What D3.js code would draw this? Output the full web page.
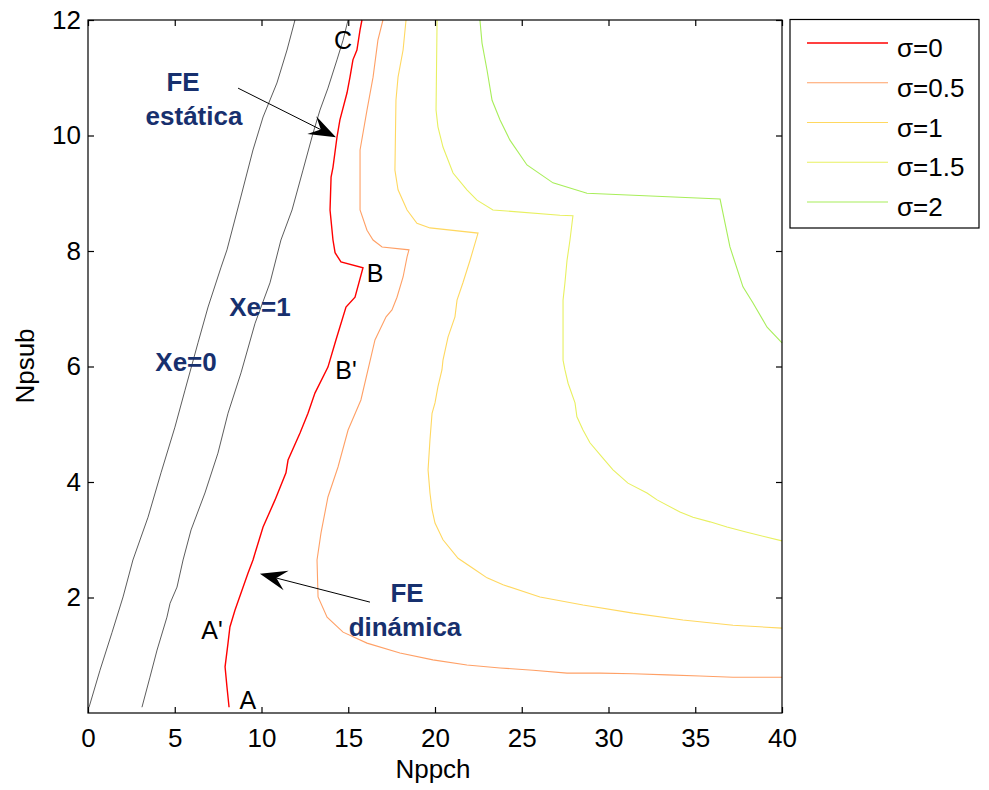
<!DOCTYPE html>
<html>
<head>
<meta charset="utf-8">
<script src="https://cdn.jsdelivr.net/npm/d3@7"></script>
<style>
  body { margin: 0; background: #fff; }
  svg text { font-family: "Liberation Sans", Arial, sans-serif; }
</style>
</head>
<body>
<div id="chart"></div>
<script>
// contour lines, [Nppch, Npsub] pairs
const xe0 = [[0.06,0.10],[0.69,0.74],[1.38,1.39],[2.02,2.01],[2.59,2.65],[3.46,3.39],[4.21,4.16],[5.01,4.95],[5.59,5.59],[6.34,6.41],[6.92,7.03],[7.67,7.72],[8.01,8.02],[8.76,8.88],[9.51,9.75],[10.09,10.32],[10.89,10.91],[11.47,11.48],[11.93,12.0]];
const xe1 = [[3.11,0.10],[3.57,0.62],[3.98,1.09],[4.55,1.66],[4.73,1.90],[5.13,2.18],[5.48,2.65],[5.94,3.17],[6.74,3.81],[7.49,4.50],[8.07,5.19],[8.82,5.89],[9.63,6.75],[10.49,7.45],[11.12,8.19],[11.76,8.71],[12.39,9.40],[12.97,10.04],[13.37,10.44],[13.83,10.82],[14.35,11.31],[14.70,11.65],[14.99,12.0]];
const sigma0 = [[8.13,0.10],[8.01,0.45],[7.90,0.80],[8.07,1.21],[8.18,1.49],[8.47,1.78],[8.88,2.13],[9.22,2.42],[9.51,2.65],[9.63,2.77],[10.09,3.22],[10.78,3.69],[11.41,4.16],[11.53,4.38],[12.22,4.85],[12.68,5.19],[13.08,5.54],[13.83,5.99],[14.29,6.46],[14.87,7.03],[15.39,7.20],[15.85,7.71],[14.58,7.81],[14.24,7.97],[14.12,8.19],[13.95,8.71],[14.01,9.28],[14.12,9.45],[14.35,9.97],[14.52,10.27],[14.93,10.74],[15.10,11.01],[15.27,11.31],[15.50,11.48],[15.68,11.83],[15.79,12.0]];
const sigma05 = [[40.0,0.62],[37.18,0.62],[35.27,0.64],[33.37,0.66],[31.41,0.68],[29.51,0.69],[27.61,0.69],[25.65,0.74],[23.75,0.78],[21.84,0.83],[19.88,0.92],[17.98,1.04],[16.08,1.21],[14.70,1.40],[13.78,1.66],[13.26,2.01],[13.20,2.65],[13.43,3.12],[13.83,3.74],[14.41,4.26],[14.99,4.90],[15.73,5.42],[16.54,6.46],[17.18,6.86],[17.52,6.98],[17.81,7.20],[18.16,7.55],[18.39,7.90],[18.50,8.02],[16.95,8.07],[16.43,8.19],[16.08,8.36],[15.68,8.71],[15.68,9.75],[16.08,10.44],[16.43,11.01],[16.71,11.65],[17.00,12.0]];
const sigma1 = [[40.0,1.47],[37.18,1.52],[34.29,1.61],[31.41,1.73],[28.53,1.87],[26.05,2.01],[23.92,2.22],[23.00,2.34],[22.31,2.48],[21.33,2.68],[20.46,3.00],[20.00,3.29],[19.83,3.52],[19.71,3.81],[19.60,4.21],[19.71,4.73],[19.83,5.19],[20.00,5.37],[20.17,5.65],[20.40,5.94],[20.46,6.11],[20.75,6.51],[21.15,6.86],[21.27,7.15],[21.61,7.45],[22.02,7.84],[22.48,8.31],[19.71,8.40],[18.96,8.48],[18.39,8.71],[17.87,9.06],[17.69,9.40],[17.75,10.61],[17.87,11.01],[18.16,11.48],[18.33,12.0]];
const sigma15 = [[40.0,2.98],[37.98,3.13],[36.83,3.22],[35.85,3.31],[34.87,3.39],[34.12,3.48],[32.80,3.69],[32.22,3.81],[31.12,3.98],[30.26,4.21],[29.63,4.43],[28.93,4.68],[28.53,4.90],[28.18,5.13],[28.07,5.37],[27.67,5.71],[27.49,5.94],[27.38,6.11],[27.38,7.15],[27.49,7.45],[27.61,7.84],[27.78,8.19],[27.95,8.61],[27.20,8.62],[23.34,8.71],[22.42,8.88],[21.84,9.06],[21.04,9.35],[20.46,9.80],[20.17,10.15],[20.06,10.44],[20.12,12.0]];
const sigma2 = [[40.0,6.41],[39.14,6.68],[38.33,7.10],[37.75,7.38],[37.00,8.07],[36.43,8.90],[28.76,9.00],[26.80,9.18],[25.30,9.49],[24.32,9.92],[23.75,10.27],[23.29,10.61],[23.00,11.13],[22.71,11.60],[22.59,12.0]];

const legendNames = ["σ=0", "σ=0.5", "σ=1", "σ=1.5", "σ=2"];
const xTicks = [0, 5, 10, 15, 20, 25, 30, 35, 40];
const yTicks = [2, 4, 6, 8, 10, 12];

// point labels and annotations (x, y = text centre)
const pointLabels = [
    { t: "C", x: 14.70, y: 11.65 },
    { t: "B", x: 16.54, y: 7.62 },
    { t: "B'", x: 14.87, y: 5.94 },
    { t: "A'", x: 7.15, y: 1.44 },
    { t: "A", x: 9.22, y: 0.23 }
];
const boldLabels = [
    { t: "Xe=0", x: 5.65, y: 6.08 },
    { t: "Xe=1", x: 9.91, y: 7.03 },
    { t: "FE", x: 5.48, y: 10.93 },
    { t: "estática", x: 6.11, y: 10.34 },
    { t: "FE", x: 18.39, y: 2.08 },
    { t: "dinámica", x: 18.27, y: 1.49 }
];
const arrows = [
    { x1: 8.65, y1: 10.82, x2: 14.29, y2: 9.97 },
    { x1: 16.25, y1: 1.92, x2: 9.91, y2: 2.41 }
];

const width = 989, height = 790;
const box = { left: 88, right: 782, top: 20, bottom: 713 };
const fs = "26px";

const svg = d3.select("#chart").append("svg")
    .attr("width", width)
    .attr("height", height);

const x = d3.scaleLinear().domain([0, 40]).range([box.left, box.right]);
const y = d3.scaleLinear().domain([0, 12]).range([box.bottom, box.top]);

const series = [
    { data: xe0, color: "#4a4a4a", w: 0.9 },
    { data: xe1, color: "#4a4a4a", w: 0.9 },
    { data: sigma0, color: "#ff0000", w: 1.4 },
    { data: sigma05, color: "#ffa066", w: 1.1 },
    { data: sigma1, color: "#ffd860", w: 1.1 },
    { data: sigma15, color: "#e8f060", w: 1.1 },
    { data: sigma2, color: "#a8ee5a", w: 1.1 }
];

const line = d3.line()
    .x(d => x(d[0]))
    .y(d => y(d[1]));

const plot = svg.append("g");

plot.selectAll("path.curve")
    .data(series)
    .join("path")
    .attr("class", "curve")
    .attr("fill", "none")
    .attr("stroke", d => d.color)
    .attr("stroke-width", d => d.w)
    .attr("d", d => line(d.data));

// frame + ticks (matlab style, inward on all sides)
svg.append("rect")
    .attr("x", box.left).attr("y", box.top)
    .attr("width", box.right - box.left).attr("height", box.bottom - box.top)
    .attr("fill", "none")
    .attr("stroke", "#000")
    .attr("stroke-width", 1.2);

const axG = svg.append("g");
axG.append("g")
    .attr("transform", `translate(0,${box.bottom})`)
    .call(d3.axisBottom(x).tickValues(xTicks).tickSize(-6).tickPadding(16))
    .call(g => g.select(".domain").remove());
axG.append("g")
    .attr("transform", `translate(0,${box.top})`)
    .call(d3.axisTop(x).tickValues(xTicks).tickSize(-6).tickFormat(""))
    .call(g => g.select(".domain").remove());
axG.append("g")
    .attr("transform", `translate(${box.left},0)`)
    .call(d3.axisLeft(y).tickValues(yTicks).tickSize(-6).tickPadding(7))
    .call(g => g.select(".domain").remove());
axG.append("g")
    .attr("transform", `translate(${box.right},0)`)
    .call(d3.axisRight(y).tickValues(yTicks).tickSize(-6).tickFormat(""))
    .call(g => g.select(".domain").remove());

axG.selectAll(".tick line").attr("stroke", "#000").attr("stroke-width", 1.2);
axG.selectAll(".tick text")
    .attr("fill", "#000")
    .attr("font-size", fs)
    .attr("font-family", "Liberation Sans, Arial, sans-serif");

// axis titles
svg.append("text")
    .attr("x", 433).attr("y", 778)
    .attr("text-anchor", "middle")
    .attr("font-size", fs)
    .text("Nppch");

svg.append("text")
    .attr("transform", "translate(34,366) rotate(-90)")
    .attr("text-anchor", "middle")
    .attr("font-size", fs)
    .text("Npsub");

// labels in the plot
svg.selectAll("text.pt")
    .data(pointLabels)
    .join("text")
    .attr("class", "pt")
    .attr("x", d => x(d.x))
    .attr("y", d => y(d.y) + 9)
    .attr("text-anchor", "middle")
    .attr("font-size", "25px")
    .text(d => d.t);

svg.selectAll("text.bold")
    .data(boldLabels)
    .join("text")
    .attr("class", "bold")
    .attr("x", d => x(d.x))
    .attr("y", d => y(d.y) + 9)
    .attr("text-anchor", "middle")
    .attr("font-size", fs)
    .attr("font-weight", "bold")
    .attr("fill", "#17306e")
    .text(d => d.t);

// arrows with stealth head
arrows.forEach(a => {
    const x1 = x(a.x1), y1 = y(a.y1), x2 = x(a.x2), y2 = y(a.y2);
    const ang = Math.atan2(y2 - y1, x2 - x1);
    const len = 27, half = 10, notch = 17;
    const c = Math.cos(ang), s = Math.sin(ang);
    svg.append("line")
        .attr("x1", x1).attr("y1", y1)
        .attr("x2", x2 - c * notch).attr("y2", y2 - s * notch)
        .attr("stroke", "#000")
        .attr("stroke-width", 1);
    const pts = [
        [x2, y2],
        [x2 - c * len - s * half, y2 - s * len + c * half],
        [x2 - c * notch, y2 - s * notch],
        [x2 - c * len + s * half, y2 - s * len - c * half]
    ];
    svg.append("path")
        .attr("d", "M" + pts.map(p => p.join(",")).join("L") + "Z")
        .attr("fill", "#000");
});

// legend
const legend = svg.append("g");
legend.append("rect")
    .attr("x", 790).attr("y", 19.5)
    .attr("width", 189).attr("height", 208.5)
    .attr("fill", "#fff")
    .attr("stroke", "#000")
    .attr("stroke-width", 1.2);

const legendRow = d3.scalePoint().domain(legendNames).range([43, 202]);

legend.selectAll("line.key")
    .data(legendNames)
    .join("line")
    .attr("class", "key")
    .attr("x1", 807).attr("x2", 888)
    .attr("y1", d => legendRow(d)).attr("y2", d => legendRow(d))
    .attr("stroke", (d, i) => series[i + 2].color)
    .attr("stroke-width", (d, i) => series[i + 2].w);

legend.selectAll("text.key")
    .data(legendNames)
    .join("text")
    .attr("class", "key")
    .attr("x", 897)
    .attr("y", d => legendRow(d) + 14)
    .attr("font-size", fs)
    .text(d => d);
</script>
</body>
</html>
